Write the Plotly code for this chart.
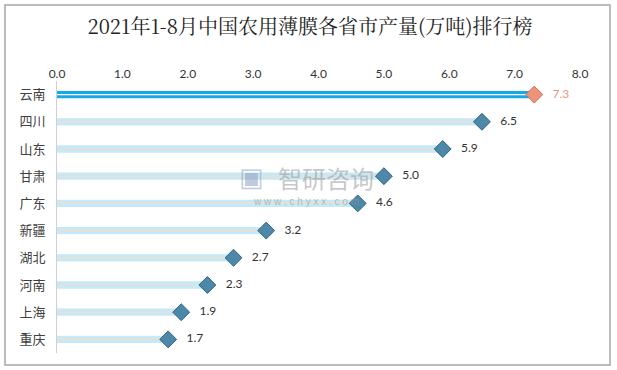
import plotly.graph_objects as go

provinces = ["云南", "四川", "山东", "甘肃", "广东", "新疆", "湖北", "河南", "上海", "重庆"]
values = [7.3, 6.5, 5.9, 5.0, 4.6, 3.2, 2.7, 2.3, 1.9, 1.7]
tick_vals = [0, 1, 2, 3, 4, 5, 6, 7, 8]
tick_text = ["0.0", "1.0", "2.0", "3.0", "4.0", "5.0", "6.0", "7.0", "8.0"]
title_text = "2021年1-8月中国农用薄膜各省市产量(万吨)排行榜"

W, H = 617, 370
L, R, T, B = 57, 37, 81, 17

bar_colors = ["#17a9e6"] + ["#c6e9f7"] * (len(values) - 1)
line_colors = ["#ffffff"] + ["#f6dcc4"] * (len(values) - 1)
mk_colors = ["#f0937b"] + ["#4e88a8"] * (len(values) - 1)
mk_line = ["#c0715f"] + ["#2e6684"] * (len(values) - 1)
lbl_colors = ["#f0937b"] + ["#333333"] * (len(values) - 1)

fig = go.Figure()
fig.add_trace(go.Bar(
    x=values, y=provinces, orientation="h", width=0.27,
    marker=dict(color=bar_colors, line=dict(width=0)),
    hoverinfo="skip", showlegend=False,
))
for i, (p, v) in enumerate(zip(provinces, values)):
    fig.add_trace(go.Scatter(
        x=[0, v], y=[p, p], mode="lines",
        line=dict(color=line_colors[i], width=1.2),
        hoverinfo="skip", showlegend=False,
    ))
fig.add_trace(go.Scatter(
    x=values, y=provinces, mode="markers+text",
    marker=dict(symbol="diamond", size=13, color=mk_colors,
                line=dict(color=mk_line, width=1)),
    text=[f"   {v:.1f}" for v in values], textposition="middle right",
    textfont=dict(family="Lato, Liberation Sans, sans-serif", size=12, color=lbl_colors),
    hoverinfo="skip", showlegend=False, cliponaxis=False,
))

pw, ph = W - L - R, H - T - B
def px(xp): return (xp - L) / pw
def py(yp): return (H - B - yp) / ph

# watermark
fig.add_annotation(x=px(326), y=py(177), xref="paper", yref="paper", text="智研咨询",
                   showarrow=False, font=dict(family="Noto Sans CJK SC", size=24, color="rgba(150,150,150,0.55)"))
fig.add_annotation(x=px(251), y=py(177), xref="paper", yref="paper", text="▣",
                   showarrow=False, font=dict(family="DejaVu Sans", size=26, color="rgba(130,150,190,0.5)"))
fig.add_annotation(x=px(306), y=py(201), xref="paper", yref="paper", text="w w w . c h y x x . c o m",
                   showarrow=False, font=dict(family="Liberation Sans", size=10, color="rgba(150,150,150,0.6)"))

# outer border
fig.add_shape(type="rect", xref="paper", yref="paper",
              x0=px(5), x1=px(610), y0=py(365), y1=py(5),
              line=dict(color="#a6a6a6", width=1.5), fillcolor="rgba(0,0,0,0)", layer="below")

fig.update_layout(
    width=W, height=H,
    margin=dict(l=L, r=R, t=T, b=B, autoexpand=False),
    paper_bgcolor="white", plot_bgcolor="white",
    title=dict(text=title_text, x=310 / W, xref="container", y=1 - 27 / H, yanchor="middle",
               xanchor="center",
               font=dict(family="Noto Serif CJK SC, Noto Sans CJK SC, serif", size=20, color="#222222")),
    xaxis=dict(side="top", range=[0, 8], tickvals=tick_vals, ticktext=tick_text,
               showgrid=False, zeroline=False, showline=False, ticks="", automargin=False,
               tickfont=dict(family="Lato, Liberation Sans, sans-serif", size=12, color="#333333")),
    yaxis=dict(range=[len(provinces) - 0.5, -0.5], showgrid=False, zeroline=False, automargin=False,
               showline=True, linecolor="#d0d0d0", linewidth=1, ticks="",
               ticklabelstandoff=8,
               tickfont=dict(family="Noto Sans CJK SC", size=13, color="#404040")),
    bargap=0.7,
)

fig.write_html("out.html", config={"displayModeBar": False},
               post_script="document.body.style.margin='0';")
